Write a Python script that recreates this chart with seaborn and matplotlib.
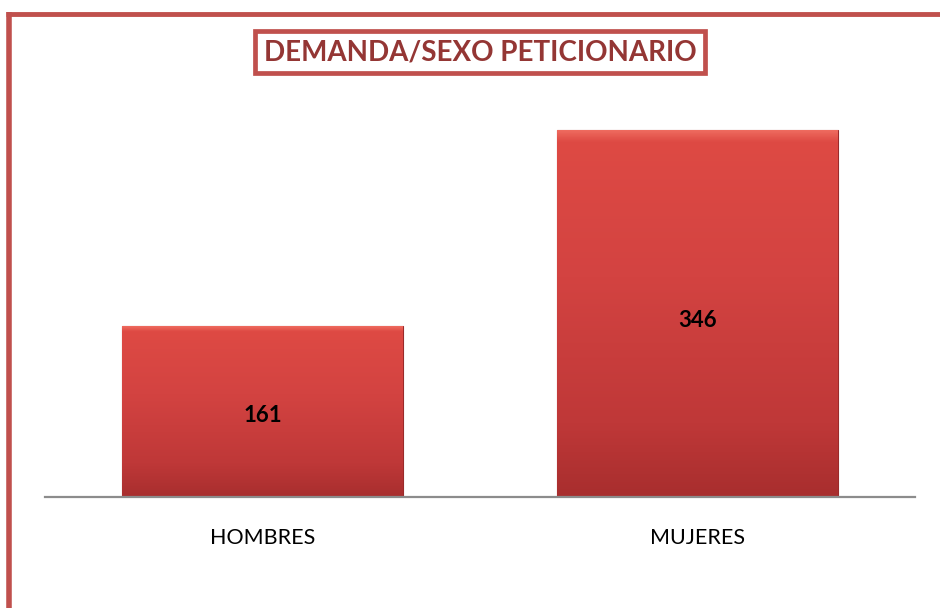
import numpy as np
import pandas as pd
import matplotlib
matplotlib.use("Agg")
import matplotlib.pyplot as plt
from matplotlib.lines import Line2D
from matplotlib.colors import LinearSegmentedColormap
import seaborn as sns

categorias = ["HOMBRES", "MUJERES"]
valores = [161, 346]
titulo = "DEMANDA/SEXO PETICIONARIO"

df = pd.DataFrame({"sexo": categorias, "total": valores})

sns.set_style("white")
plt.rcParams["font.family"] = ["Lato", "DejaVu Sans"]

fig = plt.figure(figsize=(9.4, 6.08), dpi=100)
ax = fig.add_axes([45 / 940, 1 - 497 / 608, 870 / 940, 403 / 608])

sns.barplot(data=df, x="sexo", y="total", color="#C9383A", width=0.645,
            saturation=1, ax=ax, edgecolor="#9A2A2A", linewidth=0.8)

# degradado vertical dentro de cada barra
cmap = LinearSegmentedColormap.from_list(
    "rojo", [(0, "#EE6A5E"), (0.03, "#DE4A44"), (0.4, "#D34341"), (0.8, "#BF3838"), (1, "#A82E2E")])
grad = np.linspace(0, 1, 256).reshape(-1, 1)
for p in ax.patches:
    x0, y0 = p.get_x(), p.get_y()
    im = ax.imshow(grad, cmap=cmap, aspect="auto", origin="upper",
                   extent=[x0, x0 + p.get_width(), y0, y0 + p.get_height()], zorder=p.get_zorder() + 0.1)
    im.set_clip_path(p)
ax.set_xlim(-0.5, 1.5)
ax.set_ylim(0, 380)

for p, v in zip(ax.patches, valores):
    ax.text(p.get_x() + p.get_width() / 2, p.get_height() * 0.48, str(v),
            ha="center", va="center", fontsize=16, fontweight="bold", color="black", zorder=5)

for s in ["top", "right", "left"]:
    ax.spines[s].set_visible(False)
ax.spines["bottom"].set_color("#8C8C8C")
ax.spines["bottom"].set_linewidth(1.6)
ax.set_yticks([])
ax.set_xlabel("")
ax.set_ylabel("")
ax.tick_params(axis="x", length=0, pad=22, labelsize=15.5, labelcolor="black")

fig.text(480 / 940, 1 - 52 / 608, titulo, ha="center", va="center", fontsize=20,
         fontweight="bold", color="#943634",
         bbox=dict(boxstyle="square,pad=0.3", facecolor="white", edgecolor="#C0504D", linewidth=3.4))

# marco rojo de la página
fig.add_artist(Line2D([8.5 / 940, 8.5 / 940], [0, 1 - 12 / 608], color="#C0504D", linewidth=4,
                      transform=fig.transFigure, solid_capstyle="butt"))
fig.add_artist(Line2D([6 / 940, 1], [1 - 14 / 608, 1 - 14 / 608], color="#C0504D", linewidth=3.5,
                      transform=fig.transFigure, solid_capstyle="butt"))

fig.savefig("out.png", dpi=100)
